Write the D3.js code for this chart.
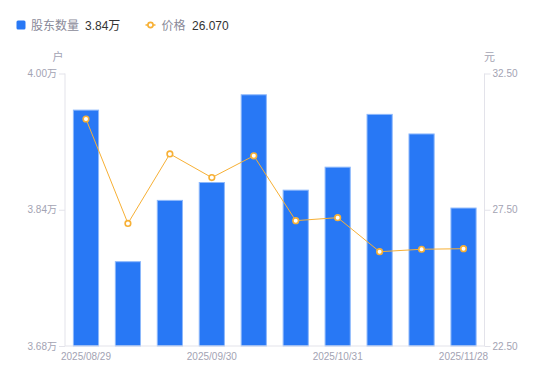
<!DOCTYPE html>
<html><head><meta charset="utf-8">
<script src="https://cdn.jsdelivr.net/npm/d3@7/dist/d3.min.js"></script>
<style>
html,body{margin:0;padding:0;background:#fff;}
svg{display:block;font-family:"Liberation Sans","Noto Sans CJK SC",Arial,sans-serif;}
</style></head>
<body>
<svg id="chart" width="550" height="381"></svg>
<script>
const dates = ["2025/08/29","2025/09/10","2025/09/19","2025/09/30","2025/10/10","2025/10/20","2025/10/31","2025/11/10","2025/11/20","2025/11/28"];
const holders = [3.957,3.779,3.851,3.872,3.975,3.863,3.890,3.952,3.929,3.842]; // 万户
const prices = [30.83,27.00,29.55,28.68,29.48,27.10,27.21,25.96,26.05,26.07];
const xTickLabels = ["2025/08/29","2025/09/30","2025/10/31","2025/11/28"];
const leftTicks = [3.68,3.84,4.00];
const rightTicks = [22.50,27.50,32.50];
const legendNames = ["股东数量","价格"];
const legendValues = ["3.84万","26.070"];

const blue = "#2878f5", orange = "#f7b035", axisCol = "#e3e3ea", labCol = "#a3a3b3";
const svg = d3.select("#chart");
const L = 65, R = 484.5, T = 73.5, B = 346;

const x = d3.scaleBand().domain(dates).range([L, R]).paddingInner(0.4).paddingOuter(0.2);
const yL = d3.scaleLinear().domain([3.68, 4.00]).range([B, T]);
const yR = d3.scaleLinear().domain([22.5, 32.5]).range([B, T]);

// bars
svg.append("g").selectAll("rect").data(dates).join("rect")
  .attr("x", d => x(d)).attr("width", x.bandwidth())
  .attr("y", (d,i) => yL(holders[i])).attr("height", (d,i) => B - yL(holders[i]))
  .attr("fill", blue).attr("stroke", "#8db8fb").attr("stroke-width", 1);

// axes
const axL = svg.append("g").attr("transform", `translate(${L},0)`)
  .call(d3.axisLeft(yL).tickValues(leftTicks).tickSize(6).tickPadding(2).tickFormat(d => d.toFixed(2) + "万"));
const axR = svg.append("g").attr("transform", `translate(${R},0)`)
  .call(d3.axisRight(yR).tickValues(rightTicks).tickSize(6).tickPadding(2).tickFormat(d => d.toFixed(2)));
[axL, axR].forEach(a => {
  a.select(".domain").attr("stroke", axisCol).attr("d", `M0,${T}V${B}`);
  a.selectAll(".tick line").attr("stroke", axisCol);
  a.selectAll(".tick text").attr("fill", labCol).attr("font-size", 10)
    .attr("font-family", '"Liberation Sans","Noto Sans CJK SC",sans-serif');
});
axL.selectAll(".tick").filter(d => d === 4.00).select("text").attr("dy", "0.32em");
const axB = svg.append("g").attr("transform", `translate(0,${B})`)
  .call(d3.axisBottom(x).tickValues(xTickLabels).tickSize(0).tickPadding(7));
axB.select(".domain").attr("stroke", axisCol).attr("d", `M${L},0H${R}`);
axB.selectAll(".tick text").attr("fill", labCol).attr("font-size", 10)
  .attr("font-family", '"Liberation Sans",sans-serif');

// unit labels
svg.append("text").attr("x", 58).attr("y", 61).attr("text-anchor", "middle")
  .attr("fill", labCol).attr("font-size", 11).attr("font-family", '"Noto Sans CJK SC",sans-serif').text("户");
svg.append("text").attr("x", 484).attr("y", 61).attr("text-anchor", "start")
  .attr("fill", labCol).attr("font-size", 11).attr("font-family", '"Noto Sans CJK SC",sans-serif').text("元");

// price line
const cx = (d) => x(d) + x.bandwidth() / 2;
const line = d3.line().x((d,i) => cx(dates[i])).y(d => yR(d));
svg.append("path").datum(prices).attr("d", line)
  .attr("fill", "none").attr("stroke", orange).attr("stroke-width", 1);
svg.append("g").selectAll("circle").data(prices).join("circle")
  .attr("cx", (d,i) => cx(dates[i])).attr("cy", d => yR(d)).attr("r", 2.8)
  .attr("fill", "#fff").attr("stroke", orange).attr("stroke-width", 1.6);

// legend
const lg = svg.append("g");
lg.append("rect").attr("x", 16.5).attr("y", 20.5).attr("width", 9).attr("height", 9).attr("rx", 1.5).attr("fill", blue);
lg.append("text").attr("x", 31).attr("y", 29.5).attr("font-size", 12).attr("fill", "#8a8a99")
  .attr("font-family", '"Noto Sans CJK SC",sans-serif').text(legendNames[0]);
lg.append("text").attr("x", 85).attr("y", 29.5).attr("font-size", 12).attr("fill", "#333")
  .attr("font-family", '"Liberation Sans","Noto Sans CJK SC",sans-serif').text(legendValues[0]);
lg.append("line").attr("x1", 145.5).attr("x2", 155.5).attr("y1", 25).attr("y2", 25).attr("stroke", orange).attr("stroke-width", 1.5);
lg.append("circle").attr("cx", 150.5).attr("cy", 25).attr("r", 2.6).attr("fill", "#fff").attr("stroke", orange).attr("stroke-width", 1.6);
lg.append("text").attr("x", 161.5).attr("y", 29.5).attr("font-size", 12).attr("fill", "#8a8a99")
  .attr("font-family", '"Noto Sans CJK SC",sans-serif').text(legendNames[1]);
lg.append("text").attr("x", 192).attr("y", 29.5).attr("font-size", 12).attr("fill", "#333")
  .attr("font-family", '"Liberation Sans",sans-serif').text(legendValues[1]);
</script>
</body></html>
